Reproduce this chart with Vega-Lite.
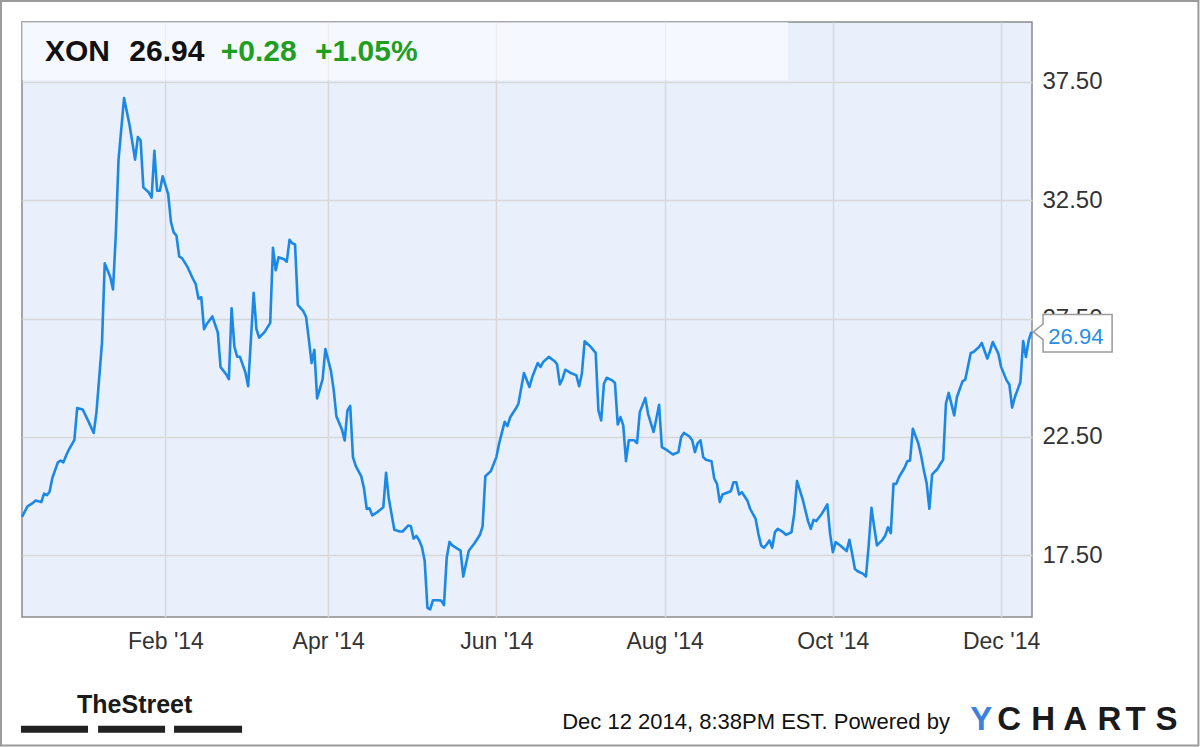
{
  "$schema": "https://vega.github.io/schema/vega-lite/v6.json",
  "width": 1010,
  "height": 595,
  "autosize": {"type": "none"},
  "padding": {"left": 22, "top": 22, "right": 168, "bottom": 130},
  "background": "#ffffff",
  "config": {
    "view": {"fill": "#e9f0fc", "stroke": "#8a8a8a", "strokeWidth": 1.5},
    "font": "Liberation Sans",
    "axis": {"gridColor": "#d8d8d8", "gridWidth": 1.5, "domain": false, "ticks": false, "tickSize": 0, "labelFont": "Liberation Sans", "labelColor": "#333333"}
  },
  "datasets": {
    "price": [
      {"t":"2013-12-11","v":19.13},{"t":"2013-12-13","v":19.57},{"t":"2013-12-15","v":19.72},{"t":"2013-12-16","v":19.82},{"t":"2013-12-18","v":19.75},{"t":"2013-12-19","v":20.11},{"t":"2013-12-20","v":20.04},{"t":"2013-12-21","v":20.19},{"t":"2013-12-22","v":20.77},{"t":"2013-12-24","v":21.43},{"t":"2013-12-25","v":21.50},{"t":"2013-12-26","v":21.43},{"t":"2013-12-27","v":21.72},{"t":"2013-12-28","v":21.97},{"t":"2013-12-30","v":22.38},{"t":"2013-12-31","v":23.72},
      {"t":"2014-01-02","v":23.66},{"t":"2014-01-04","v":23.18},{"t":"2014-01-06","v":22.67},{"t":"2014-01-07","v":23.55},{"t":"2014-01-09","v":26.47},{"t":"2014-01-10","v":29.83},{"t":"2014-01-12","v":29.25},{"t":"2014-01-13","v":28.73},{"t":"2014-01-14","v":31.00},{"t":"2014-01-15","v":34.21},{"t":"2014-01-17","v":36.81},{"t":"2014-01-19","v":35.67},{"t":"2014-01-21","v":34.21},{"t":"2014-01-22","v":35.16},{"t":"2014-01-23","v":35.02},{"t":"2014-01-24","v":33.04},{"t":"2014-01-26","v":32.82},{"t":"2014-01-27","v":32.61},{"t":"2014-01-28","v":34.58},{"t":"2014-01-29","v":32.90},{"t":"2014-01-30","v":32.90},{"t":"2014-01-31","v":33.51},
      {"t":"2014-02-02","v":32.75},{"t":"2014-02-03","v":31.58},{"t":"2014-02-04","v":31.14},{"t":"2014-02-05","v":31.00},{"t":"2014-02-06","v":30.12},{"t":"2014-02-07","v":30.05},{"t":"2014-02-09","v":29.68},{"t":"2014-02-11","v":29.17},{"t":"2014-02-12","v":28.95},{"t":"2014-02-13","v":28.34},{"t":"2014-02-14","v":28.40},{"t":"2014-02-15","v":27.05},{"t":"2014-02-16","v":27.27},{"t":"2014-02-18","v":27.59},{"t":"2014-02-20","v":26.91},{"t":"2014-02-21","v":25.45},{"t":"2014-02-23","v":25.15},{"t":"2014-02-24","v":24.94},{"t":"2014-02-25","v":27.93},{"t":"2014-02-26","v":26.32},{"t":"2014-02-27","v":25.89},{"t":"2014-02-28","v":25.89},
      {"t":"2014-03-02","v":25.23},{"t":"2014-03-03","v":24.64},{"t":"2014-03-05","v":28.59},{"t":"2014-03-06","v":27.05},{"t":"2014-03-07","v":26.69},{"t":"2014-03-09","v":26.94},{"t":"2014-03-11","v":27.32},{"t":"2014-03-12","v":30.49},{"t":"2014-03-13","v":29.54},{"t":"2014-03-14","v":30.09},{"t":"2014-03-16","v":30.00},{"t":"2014-03-17","v":29.90},{"t":"2014-03-18","v":30.82},{"t":"2014-03-19","v":30.68},{"t":"2014-03-20","v":30.63},{"t":"2014-03-21","v":28.08},{"t":"2014-03-23","v":27.81},{"t":"2014-03-24","v":27.57},{"t":"2014-03-25","v":26.62},{"t":"2014-03-26","v":25.62},{"t":"2014-03-27","v":26.18},{"t":"2014-03-28","v":24.13},{"t":"2014-03-30","v":24.94},{"t":"2014-03-31","v":26.21},
      {"t":"2014-04-02","v":25.30},{"t":"2014-04-03","v":24.50},{"t":"2014-04-04","v":23.37},{"t":"2014-04-06","v":22.82},{"t":"2014-04-07","v":22.35},{"t":"2014-04-08","v":23.62},{"t":"2014-04-09","v":23.81},{"t":"2014-04-10","v":21.65},{"t":"2014-04-11","v":21.28},{"t":"2014-04-13","v":20.84},{"t":"2014-04-14","v":20.33},{"t":"2014-04-15","v":19.46},{"t":"2014-04-16","v":19.49},{"t":"2014-04-17","v":19.19},{"t":"2014-04-19","v":19.34},{"t":"2014-04-21","v":19.53},{"t":"2014-04-22","v":20.99},{"t":"2014-04-23","v":19.90},{"t":"2014-04-25","v":18.58},{"t":"2014-04-27","v":18.51},{"t":"2014-04-28","v":18.51},{"t":"2014-04-30","v":18.76},
      {"t":"2014-05-01","v":18.73},{"t":"2014-05-02","v":18.21},{"t":"2014-05-03","v":18.32},{"t":"2014-05-04","v":18.14},{"t":"2014-05-05","v":17.85},{"t":"2014-05-06","v":17.27},{"t":"2014-05-07","v":15.29},{"t":"2014-05-08","v":15.22},{"t":"2014-05-09","v":15.61},{"t":"2014-05-11","v":15.61},{"t":"2014-05-12","v":15.59},{"t":"2014-05-13","v":15.40},{"t":"2014-05-14","v":17.41},{"t":"2014-05-15","v":18.07},{"t":"2014-05-16","v":17.92},{"t":"2014-05-19","v":17.70},{"t":"2014-05-20","v":16.61},{"t":"2014-05-22","v":17.70},{"t":"2014-05-24","v":18.00},{"t":"2014-05-26","v":18.36},{"t":"2014-05-27","v":18.73},{"t":"2014-05-28","v":20.84},{"t":"2014-05-30","v":21.06},
      {"t":"2014-06-01","v":21.65},{"t":"2014-06-02","v":22.23},{"t":"2014-06-04","v":23.14},{"t":"2014-06-05","v":22.96},{"t":"2014-06-06","v":23.33},{"t":"2014-06-08","v":23.69},{"t":"2014-06-09","v":23.91},{"t":"2014-06-11","v":25.20},{"t":"2014-06-13","v":24.61},{"t":"2014-06-14","v":25.03},{"t":"2014-06-16","v":25.62},{"t":"2014-06-17","v":25.46},{"t":"2014-06-18","v":25.67},{"t":"2014-06-20","v":25.88},{"t":"2014-06-22","v":25.71},{"t":"2014-06-23","v":25.57},{"t":"2014-06-24","v":24.72},{"t":"2014-06-25","v":24.96},{"t":"2014-06-26","v":25.34},{"t":"2014-06-28","v":25.20},{"t":"2014-06-30","v":25.10},
      {"t":"2014-07-01","v":24.64},{"t":"2014-07-02","v":25.17},{"t":"2014-07-03","v":26.54},{"t":"2014-07-05","v":26.33},{"t":"2014-07-07","v":26.05},{"t":"2014-07-08","v":23.62},{"t":"2014-07-09","v":23.20},{"t":"2014-07-10","v":24.75},{"t":"2014-07-11","v":25.00},{"t":"2014-07-13","v":24.89},{"t":"2014-07-14","v":24.78},{"t":"2014-07-15","v":23.03},{"t":"2014-07-16","v":23.34},{"t":"2014-07-17","v":22.99},{"t":"2014-07-18","v":21.48},{"t":"2014-07-19","v":22.36},{"t":"2014-07-20","v":22.36},{"t":"2014-07-21","v":22.36},{"t":"2014-07-22","v":22.24},{"t":"2014-07-23","v":23.55},{"t":"2014-07-25","v":24.15},{"t":"2014-07-26","v":23.48},{"t":"2014-07-28","v":22.71},{"t":"2014-07-29","v":23.27},{"t":"2014-07-30","v":23.86},{"t":"2014-07-31","v":22.07},
      {"t":"2014-08-02","v":21.93},{"t":"2014-08-04","v":21.76},{"t":"2014-08-06","v":21.86},{"t":"2014-08-07","v":22.50},{"t":"2014-08-08","v":22.67},{"t":"2014-08-10","v":22.52},{"t":"2014-08-11","v":22.36},{"t":"2014-08-12","v":21.86},{"t":"2014-08-13","v":22.24},{"t":"2014-08-14","v":22.36},{"t":"2014-08-15","v":21.65},{"t":"2014-08-16","v":21.54},{"t":"2014-08-18","v":21.48},{"t":"2014-08-19","v":20.74},{"t":"2014-08-20","v":20.52},{"t":"2014-08-21","v":19.75},{"t":"2014-08-22","v":20.07},{"t":"2014-08-25","v":20.21},{"t":"2014-08-26","v":20.59},{"t":"2014-08-27","v":20.59},{"t":"2014-08-28","v":20.07},{"t":"2014-08-29","v":20.17},{"t":"2014-08-31","v":19.82},
      {"t":"2014-09-01","v":19.47},{"t":"2014-09-03","v":19.04},{"t":"2014-09-04","v":18.41},{"t":"2014-09-05","v":17.92},{"t":"2014-09-06","v":17.82},{"t":"2014-09-07","v":17.96},{"t":"2014-09-08","v":18.13},{"t":"2014-09-09","v":17.82},{"t":"2014-09-10","v":18.48},{"t":"2014-09-11","v":18.62},{"t":"2014-09-13","v":18.48},{"t":"2014-09-14","v":18.37},{"t":"2014-09-16","v":18.48},{"t":"2014-09-17","v":19.26},{"t":"2014-09-18","v":20.64},{"t":"2014-09-20","v":19.89},{"t":"2014-09-22","v":18.95},{"t":"2014-09-23","v":18.62},{"t":"2014-09-24","v":19.00},{"t":"2014-09-25","v":18.95},{"t":"2014-09-27","v":19.26},{"t":"2014-09-29","v":19.65},{"t":"2014-09-30","v":18.41},
      {"t":"2014-10-01","v":17.64},{"t":"2014-10-02","v":18.06},{"t":"2014-10-04","v":17.89},{"t":"2014-10-06","v":17.68},{"t":"2014-10-07","v":18.16},{"t":"2014-10-08","v":17.57},{"t":"2014-10-09","v":16.93},{"t":"2014-10-10","v":16.83},{"t":"2014-10-12","v":16.72},{"t":"2014-10-13","v":16.61},{"t":"2014-10-14","v":17.92},{"t":"2014-10-15","v":19.51},{"t":"2014-10-16","v":18.69},{"t":"2014-10-17","v":17.92},{"t":"2014-10-19","v":18.16},{"t":"2014-10-20","v":18.34},{"t":"2014-10-21","v":18.69},{"t":"2014-10-22","v":18.44},{"t":"2014-10-23","v":20.52},{"t":"2014-10-24","v":20.52},{"t":"2014-10-25","v":20.81},{"t":"2014-10-27","v":21.20},{"t":"2014-10-28","v":21.48},{"t":"2014-10-29","v":21.51},{"t":"2014-10-30","v":22.85},
      {"t":"2014-11-01","v":22.22},{"t":"2014-11-02","v":21.72},{"t":"2014-11-03","v":21.09},{"t":"2014-11-04","v":20.55},{"t":"2014-11-05","v":19.47},{"t":"2014-11-06","v":20.92},{"t":"2014-11-08","v":21.16},{"t":"2014-11-09","v":21.37},{"t":"2014-11-10","v":21.54},{"t":"2014-11-11","v":23.91},{"t":"2014-11-12","v":24.36},{"t":"2014-11-14","v":23.41},{"t":"2014-11-15","v":24.19},{"t":"2014-11-17","v":24.85},{"t":"2014-11-18","v":24.92},{"t":"2014-11-20","v":26.05},{"t":"2014-11-21","v":26.09},{"t":"2014-11-23","v":26.30},{"t":"2014-11-24","v":26.47},{"t":"2014-11-26","v":25.81},{"t":"2014-11-27","v":26.13},{"t":"2014-11-28","v":26.51},{"t":"2014-11-30","v":26.02},
      {"t":"2014-12-01","v":25.46},{"t":"2014-12-03","v":24.89},{"t":"2014-12-04","v":24.72},{"t":"2014-12-05","v":23.74},{"t":"2014-12-06","v":24.19},{"t":"2014-12-07","v":24.50},{"t":"2014-12-08","v":24.82},{"t":"2014-12-09","v":26.55},{"t":"2014-12-10","v":25.88},{"t":"2014-12-11","v":26.58},{"t":"2014-12-12","v":26.94}
    ],
    "headerBox": [{"t":"2013-12-11T00:00:00Z","t2":"2014-09-14T19:00:00Z","v":37.56,"v2":40.02}],
    "header": [
      {"t":"2013-12-19T08:00:00Z","v":38.39,"text":"XON","kind":"quote"},
      {"t":"2014-01-18T22:00:00Z","v":38.39,"text":"26.94","kind":"quote"},
      {"t":"2014-02-21T02:00:00Z","v":38.39,"text":"+0.28","kind":"change"},
      {"t":"2014-03-27T06:00:00Z","v":38.39,"text":"+1.05%","kind":"change"}
    ],
    "footer": [{"t":"2014-06-24T21:00:00Z","v":10.18,"text":"Dec 12 2014, 8:38PM EST.  Powered by"}],
    "brandY": [{"t":"2014-11-19T20:00:00Z","v":10.15,"text":"Y"}],
    "brandCharts": [
      {"t":"2014-11-29T14:00:00Z","v":10.15,"text":"C"},
      {"t":"2014-12-11T23:00:00Z","v":10.15,"text":"H"},
      {"t":"2014-12-23T14:00:00Z","v":10.15,"text":"A"},
      {"t":"2015-01-04T22:00:00Z","v":10.15,"text":"R"},
      {"t":"2015-01-15T02:00:00Z","v":10.15,"text":"T"},
      {"t":"2015-01-25T23:00:00Z","v":10.15,"text":"S"}
    ],
    "street": [{"t":"2013-12-30T23:00:00Z","v":10.86,"text":"TheStreet"}],
    "streetBars": [
      {"t":"2013-12-10T15:00:00Z","t2":"2014-01-03T22:30:00Z","v":10.31,"v2":10.01},
      {"t":"2014-01-07T14:00:00Z","t2":"2014-01-31T21:00:00Z","v":10.31,"v2":10.01},
      {"t":"2014-02-04T03:00:00Z","t2":"2014-02-28T19:00:00Z","v":10.31,"v2":10.01}
    ],
    "calloutBox": [{"t":"2014-12-16T05:00:00Z","t2":"2015-01-10T06:00:00Z","v":27.67,"v2":26.09}],
    "calloutGap": [{"t":"2014-12-16T05:00:00Z","t2":"2014-12-16T05:00:00Z","v":27.24,"v2":26.64}],
    "calloutPointer": [
      {"t":"2014-12-12T16:30:00Z","t2":"2014-12-16T05:00:00Z","v":26.94,"v2":27.27},
      {"t":"2014-12-12T16:30:00Z","t2":"2014-12-16T05:00:00Z","v":26.94,"v2":26.61}
    ],
    "calloutText": [{"t":"2014-12-18T03:00:00Z","v":26.44,"text":"26.94"}],
    "frame": [{"t":"2013-12-03T09:00:00Z","t2":"2015-02-10T13:00:00Z","v":40.91,"v2":9.47}]
  },
  "encoding": {
    "x": {
      "field": "t", "type": "temporal",
      "scale": {"type": "utc", "domain": [{"year": 2013, "month": 12, "date": 11, "utc": true}, {"year": 2014, "month": 12, "date": 12, "hours": 5, "utc": true}]},
      "axis": {
        "values": [
          {"year": 2014, "month": 2, "date": 1, "utc": true},
          {"year": 2014, "month": 4, "date": 1, "utc": true},
          {"year": 2014, "month": 6, "date": 1, "utc": true},
          {"year": 2014, "month": 8, "date": 1, "utc": true},
          {"year": 2014, "month": 10, "date": 1, "utc": true},
          {"year": 2014, "month": 12, "date": 1, "utc": true}
        ],
        "labelExpr": "utcFormat(datum.value, \"%b '%y\")",
        "labelFontSize": 23, "labelPadding": 13, "labelAlign": "center", "labelBaseline": "top", "title": null
      }
    },
    "y": {
      "field": "v", "type": "quantitative",
      "scale": {"domain": [14.9, 40.02], "nice": false, "zero": false},
      "axis": {
        "orient": "right", "values": [17.5, 22.5, 27.5, 32.5, 37.5], "format": ".2f",
        "labelFontSize": 24, "labelPadding": 10, "labelAlign": "left", "labelBaseline": "middle", "title": null
      }
    }
  },
  "layer": [
    {
      "data": {"name": "headerBox"},
      "mark": {"type": "rect", "fill": "#ffffff", "opacity": 0.55, "clip": false},
      "encoding": {"x2": {"field": "t2"}, "y2": {"field": "v2"}}
    },
    {
      "data": {"name": "price"},
      "mark": {"type": "line", "color": "#1c88e6", "strokeWidth": 2.6, "strokeJoin": "round", "clip": false}
    },
    {
      "data": {"name": "header"},
      "mark": {"type": "text", "align": "left", "baseline": "alphabetic", "font": "Liberation Sans", "fontWeight": "bold", "fontSize": 30, "clip": false},
      "encoding": {
        "text": {"field": "text"},
        "color": {"field": "kind", "type": "nominal", "scale": {"domain": ["quote", "change"], "range": ["#111111", "#1f9e1f"]}, "legend": null}
      }
    },
    {
      "data": {"name": "footer"},
      "mark": {"type": "text", "align": "left", "baseline": "alphabetic", "font": "Liberation Sans", "fontSize": 22, "color": "#111111", "clip": false},
      "encoding": {"text": {"field": "text"}}
    },
    {
      "data": {"name": "brandY"},
      "mark": {"type": "text", "align": "left", "baseline": "alphabetic", "font": "Liberation Sans", "fontWeight": "bold", "fontSize": 33, "color": "#3b82e0", "clip": false},
      "encoding": {"text": {"field": "text"}}
    },
    {
      "data": {"name": "brandCharts"},
      "mark": {"type": "text", "align": "left", "baseline": "alphabetic", "font": "Liberation Sans", "fontWeight": "bold", "fontSize": 33, "color": "#1a1a1a", "clip": false},
      "encoding": {"text": {"field": "text"}}
    },
    {
      "data": {"name": "street"},
      "mark": {"type": "text", "align": "left", "baseline": "alphabetic", "font": "Liberation Sans", "fontWeight": "bold", "fontSize": 25, "color": "#1a1a1a", "clip": false},
      "encoding": {"text": {"field": "text"}}
    },
    {
      "data": {"name": "streetBars"},
      "mark": {"type": "rect", "fill": "#222222", "clip": false},
      "encoding": {"x2": {"field": "t2"}, "y2": {"field": "v2"}}
    },
    {
      "data": {"name": "calloutBox"},
      "mark": {"type": "rect", "fill": "#ffffff", "stroke": "#9a9a9a", "strokeWidth": 1.5, "clip": false},
      "encoding": {"x2": {"field": "t2"}, "y2": {"field": "v2"}}
    },
    {
      "data": {"name": "calloutGap"},
      "mark": {"type": "rule", "color": "#ffffff", "strokeWidth": 2.5, "clip": false},
      "encoding": {"x2": {"field": "t2"}, "y2": {"field": "v2"}}
    },
    {
      "data": {"name": "calloutPointer"},
      "mark": {"type": "rule", "color": "#9a9a9a", "strokeWidth": 1.5, "clip": false},
      "encoding": {"x2": {"field": "t2"}, "y2": {"field": "v2"}}
    },
    {
      "data": {"name": "calloutText"},
      "mark": {"type": "text", "align": "left", "baseline": "alphabetic", "font": "Liberation Sans", "fontSize": 22, "color": "#2b8de6", "clip": false},
      "encoding": {"text": {"field": "text"}}
    },
    {
      "data": {"name": "frame"},
      "mark": {"type": "rect", "fillOpacity": 0, "stroke": "#9a9a9a", "strokeWidth": 2, "clip": false},
      "encoding": {"x2": {"field": "t2"}, "y2": {"field": "v2"}}
    }
  ]
}
